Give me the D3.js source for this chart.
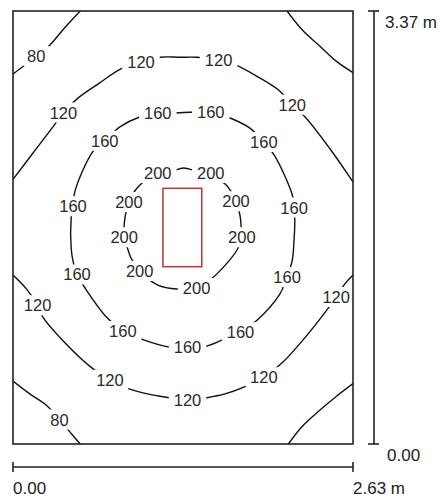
<!DOCTYPE html>
<html>
<head>
<meta charset="utf-8">
<script src="https://cdn.jsdelivr.net/npm/d3@7"></script>
<style>
  html, body { margin: 0; padding: 0; background: #fff; }
  svg { display: block; }
  text { font-family: "Liberation Sans", Arial, Helvetica, sans-serif; }
</style>
</head>
<body>
<svg id="chart" width="441" height="498"></svg>
<script>
// Room dimensions (m)
const roomWidth = 2.63;
const roomLength = 3.37;
const scaleLabelsX = ["0.00", "2.63 m"];
const scaleLabelsY = ["0.00", "3.37 m"];

// Luminaire outline (m): [x0, y0, x1, y1]
const luminaire = [1.16, 1.38, 1.46, 1.99];

// Isolux lines (lux) and their traced points (m)
const contourLevels = [80, 80, 80, 80, 120, 120, 160, 200];
const contourClosed = [false, false, false, false, false, false, true, true];
const contour80a = [[0.52,3.37],[0.40,3.24],[0.28,3.10],[0.18,3.02],[0.08,2.94],[0,2.88]];
const contour80b = [[2.12,3.37],[2.24,3.22],[2.37,3.10],[2.50,2.98],[2.63,2.89]];
const contour80c = [[0,0.49],[0.13,0.39],[0.26,0.30],[0.36,0.19],[0.46,0.07],[0.52,0]];
const contour80d = [[2.13,0],[2.24,0.14],[2.37,0.26],[2.50,0.37],[2.63,0.47]];
const contour120a = [[0,2.06],[0.155,2.265],[0.31,2.47],[0.39,2.58],[0.50,2.69],[0.67,2.81],[0.835,2.92],
  [0.99,2.97],[1.14,3.01],[1.29,3.01],[1.42,3.01],[1.59,2.99],[1.72,2.95],[1.89,2.86],[2.06,2.75],
  [2.16,2.64],[2.26,2.545],[2.45,2.30],[2.63,2.04]];
const contour120b = [[2.63,1.315],[2.57,1.25],[2.50,1.145],[2.44,1.06],[2.26,0.83],[2.08,0.63],[1.94,0.52],
  [1.79,0.445],[1.64,0.39],[1.50,0.36],[1.35,0.34],[1.21,0.36],[1.04,0.39],[0.88,0.435],[0.75,0.50],
  [0.60,0.60],[0.40,0.79],[0.23,0.99],[0.19,1.08],[0.11,1.20],[0,1.315]];
const contour160 = [[1.12,2.576],[0.98,2.545],[0.83,2.47],[0.71,2.36],[0.62,2.28],[0.48,1.97],[0.464,1.85],
  [0.45,1.76],[0.45,1.525],[0.464,1.425],[0.495,1.32],[0.56,1.21],[0.73,0.98],[0.85,0.88],[1.01,0.81],
  [1.21,0.755],[1.35,0.755],[1.47,0.755],[1.62,0.81],[1.76,0.87],[1.89,0.965],[2.06,1.16],[2.12,1.30],
  [2.16,1.43],[2.174,1.59],[2.18,1.735],[2.174,1.84],[2.16,1.94],[2.02,2.25],[1.94,2.35],[1.83,2.46],
  [1.66,2.545],[1.53,2.584],[1.41,2.584],[1.23,2.576]];
const contour200 = [[1.12,2.11],[1.23,2.125],[1.32,2.148],[1.42,2.125],[1.53,2.11],[1.62,2.04],[1.655,2.01],
  [1.725,1.89],[1.756,1.78],[1.764,1.70],[1.77,1.61],[1.733,1.51],[1.64,1.39],[1.54,1.29],[1.42,1.214],
  [1.27,1.206],[1.12,1.237],[0.98,1.346],[0.913,1.448],[0.89,1.51],[0.86,1.61],[0.866,1.76],[0.897,1.883],
  [0.967,2.0]];
const contourPoints = [contour80a, contour80b, contour80c, contour80d, contour120a, contour120b, contour160, contour200];

// Contour labels: value and position (m)
const labelValues = [80, 80,
  120, 120, 120, 120, 120, 120, 120, 120, 120,
  160, 160, 160, 160, 160, 160, 160, 160, 160, 160, 160,
  200, 200, 200, 200, 200, 200, 200, 200];
const labelX = [0.18, 0.36,
  0.39, 0.99, 1.59, 2.16, 2.50, 1.94, 1.35, 0.75, 0.19,
  1.12, 1.53, 0.71, 1.94, 0.464, 2.174, 0.495, 2.12, 0.85, 1.35, 1.76,
  1.12, 1.53, 0.897, 1.725, 0.86, 1.77, 0.98, 1.42];
const labelY = [3.02, 0.19,
  2.58, 2.97, 2.99, 2.64, 1.145, 0.52, 0.34, 0.50, 1.08,
  2.576, 2.584, 2.36, 2.35, 1.85, 1.84, 1.32, 1.30, 0.88, 0.755, 0.87,
  2.11, 2.11, 1.883, 1.89, 1.61, 1.61, 1.346, 1.214];

const svg = d3.select("#chart");
const mLeft = 13, mRight = 353, mTop = 11, mBottom = 444;
const x = d3.scaleLinear().domain([0, roomWidth]).range([mLeft, mRight]);
const y = d3.scaleLinear().domain([0, roomLength]).range([mBottom, mTop]);

svg.append("defs").append("clipPath").attr("id", "clip")
  .append("rect").attr("x", mLeft).attr("y", mTop).attr("width", mRight - mLeft).attr("height", mBottom - mTop);

const gLines = svg.append("g").attr("clip-path", "url(#clip)");
contourPoints.forEach((pts, i) => {
  const line = d3.line().x(d => x(d[0])).y(d => y(d[1]))
    .curve(contourClosed[i] ? d3.curveCatmullRomClosed.alpha(0.5) : d3.curveCatmullRom.alpha(0.5));
  gLines.append("path").attr("d", line(pts))
    .attr("fill", "none").attr("stroke", "#111").attr("stroke-width", 1.4)
    .attr("data-level", contourLevels[i]);
});

// Labels with white knockout
const gLab = svg.append("g");
labelValues.forEach((v, i) => {
  const g = gLab.append("g");
  const bg = g.append("rect").attr("fill", "#fff").attr("rx", 3);
  const t = g.append("text").attr("x", x(labelX[i])).attr("y", y(labelY[i]))
    .attr("text-anchor", "middle").attr("dominant-baseline", "central")
    .attr("font-size", 16.5).attr("fill", "#2a2a2a").text(v);
  const b = t.node().getBBox();
  bg.attr("x", b.x - 5).attr("y", b.y - 1).attr("width", b.width + 10).attr("height", b.height + 2);
});

// Luminaire
svg.append("rect")
  .attr("x", x(luminaire[0])).attr("y", y(luminaire[3]))
  .attr("width", x(luminaire[2]) - x(luminaire[0])).attr("height", y(luminaire[1]) - y(luminaire[3]))
  .attr("fill", "none").attr("stroke", "#c8302a").attr("stroke-width", 1.5);

// Room frame
svg.append("rect").attr("x", mLeft).attr("y", mTop).attr("width", mRight - mLeft).attr("height", mBottom - mTop)
  .attr("fill", "none").attr("stroke", "#222").attr("stroke-width", 1.6);

// Dimension bars
const barX = 374, barY = 467;
svg.append("line").attr("x1", barX).attr("x2", barX).attr("y1", y(0)).attr("y2", y(roomLength))
  .attr("stroke", "#222").attr("stroke-width", 1.6);
[0, roomLength].forEach(v => svg.append("line").attr("x1", barX - 6).attr("x2", barX + 5)
  .attr("y1", y(v)).attr("y2", y(v)).attr("stroke", "#222").attr("stroke-width", 1.6));
svg.append("line").attr("y1", barY).attr("y2", barY).attr("x1", x(0)).attr("x2", x(roomWidth))
  .attr("stroke", "#222").attr("stroke-width", 1.6);
[0, roomWidth].forEach(v => svg.append("line").attr("y1", barY - 5).attr("y2", barY + 5)
  .attr("x1", x(v)).attr("x2", x(v)).attr("stroke", "#222").attr("stroke-width", 1.6));

svg.append("text").attr("x", 385).attr("y", y(roomLength) + 11).attr("dominant-baseline", "central")
  .attr("font-size", 17).attr("fill", "#222").text(scaleLabelsY[1]);
svg.append("text").attr("x", 387).attr("y", y(0) + 11).attr("dominant-baseline", "central")
  .attr("font-size", 17).attr("fill", "#222").text(scaleLabelsY[0]);
svg.append("text").attr("x", x(0)).attr("y", 488).attr("dominant-baseline", "central")
  .attr("font-size", 17).attr("fill", "#222").text(scaleLabelsX[0]);
svg.append("text").attr("x", x(roomWidth)).attr("y", 488).attr("dominant-baseline", "central")
  .attr("font-size", 17).attr("fill", "#222").text(scaleLabelsX[1]);
</script>
</body>
</html>
